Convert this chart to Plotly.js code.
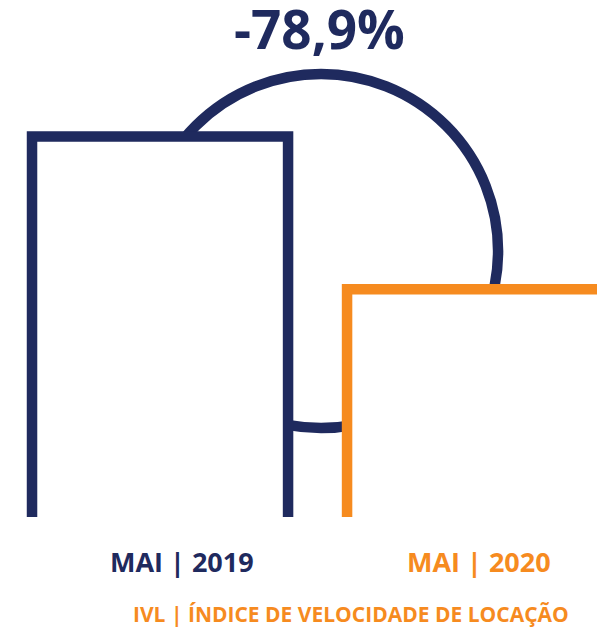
<!DOCTYPE html>
<html>
<head>
<meta charset="utf-8">
<script src="https://cdn.plot.ly/plotly-3.0.1.min.js"></script>
<style>html,body{margin:0;padding:0;background:#fff;}</style>
</head>
<body>
<div id="chart" style="width:597px;height:628px;"></div>
<script>
// ---- data ----
const categories = ['MAI | 2019', 'MAI | 2020'];
const ivlValues = [100, 60.5];          // relative bar heights
const changeLabel = '-78,9%';
const subtitle = 'IVL | ÍNDICE DE VELOCIDADE DE LOCAÇÃO';

// ---- style ----
const NAVY = '#1F2A5E';
const ORANGE = '#F68B1F';
const barColors = [NAVY, ORANGE];
const FONT = 'Open Sans, sans-serif';

const trace = {
  type: 'bar',
  x: categories,
  y: ivlValues,
  width: 0.8127,
  marker: { color: 'white', line: { color: barColors, width: 10.5 } },
  hoverinfo: 'skip',
  cliponaxis: true
};

const labelShifts = [22, 4];
const annotations = categories.map((c, i) => ({
  x: c, xref: 'x', y: -0.087, yref: 'paper',
  xshift: labelShifts[i],
  text: '<b>' + c + '</b>', showarrow: false,
  xanchor: 'center', yanchor: 'middle',
  font: { family: FONT, size: 27, color: barColors[i] }
}));
annotations.push({
  x: 0.536, xref: 'paper', y: 0.944, yref: 'paper',
  text: '<b>' + changeLabel + '</b>', showarrow: false,
  xanchor: 'center', yanchor: 'middle',
  font: { family: FONT, size: 53, color: NAVY }
});
annotations.push({
  x: 0.588, xref: 'paper', y: -0.188, yref: 'paper',
  text: '<b>' + subtitle + '</b>', showarrow: false,
  xanchor: 'center', yanchor: 'middle',
  font: { family: FONT, size: 21, color: ORANGE }
});

const layout = {
  width: 597, height: 628,
  margin: { l: 0, r: 0, t: 0, b: 111, pad: 0 },
  paper_bgcolor: 'white', plot_bgcolor: 'white',
  showlegend: false,
  xaxis: { type: 'category', range: [-0.508, 1.387], showgrid: false, zeroline: false,
           showticklabels: false, showline: false, ticks: '' },
  yaxis: { range: [1.55, 135.3], showgrid: false, zeroline: false,
           showticklabels: false, showline: false, ticks: '' },
  shapes: [{
    type: 'circle', xref: 'x', yref: 'y', layer: 'below',
    x0: -0.051, x1: 1.073, y0: 24.57, y1: 116.17,
    line: { color: NAVY, width: 10.5 }, fillcolor: 'rgba(0,0,0,0)'
  }],
  annotations: annotations
};

Plotly.newPlot('chart', [trace], layout, { staticPlot: true, displayModeBar: false });
</script>
</body>
</html>
